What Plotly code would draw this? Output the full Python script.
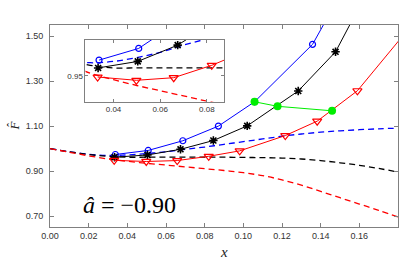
import plotly.graph_objects as go

# ---- data ----
blue_x = [0.0338, 0.0508, 0.0687, 0.0871, 0.1058, 0.1358, 0.1460]
blue_y = [0.974, 0.992, 1.035, 1.100, 1.208, 1.463, 1.620]

black_x = [0.0334, 0.0504, 0.0675, 0.0845, 0.1020, 0.1284, 0.1477, 0.1600]
black_y = [0.962, 0.972, 0.997, 1.036, 1.101, 1.256, 1.430, 1.630]

red_x = [0.0332, 0.0498, 0.0658, 0.0821, 0.0981, 0.1217, 0.1382, 0.1590, 0.1850]
red_y = [0.948, 0.943, 0.947, 0.966, 0.990, 1.058, 1.122, 1.257, 1.527]

green_x = [0.1058, 0.1177, 0.1459]
green_y = [1.208, 1.188, 1.168]

dash_x = [0.00, 0.01, 0.02, 0.03, 0.04, 0.05, 0.06, 0.07, 0.08, 0.09,
          0.10, 0.11, 0.12, 0.13, 0.14, 0.15, 0.16, 0.17, 0.18]
blue_dash_y = [1.000, 0.986, 0.975, 0.970, 0.972, 0.978, 0.986, 0.997, 1.007, 1.019,
               1.031, 1.043, 1.055, 1.065, 1.073, 1.079, 1.084, 1.088, 1.091]
black_dash_y = [1.000, 0.986, 0.974, 0.966, 0.962, 0.962, 0.962, 0.962, 0.962, 0.962,
                0.961, 0.960, 0.958, 0.954, 0.947, 0.937, 0.926, 0.912, 0.896]
red_dash_y = [1.000, 0.984, 0.968, 0.954, 0.944, 0.935, 0.927, 0.919, 0.911, 0.903,
              0.893, 0.880, 0.861, 0.838, 0.810, 0.782, 0.754, 0.726, 0.697]

main_yticks = [0.70, 0.90, 1.10, 1.30, 1.50]
main_xticks = [0.00, 0.02, 0.04, 0.06, 0.08, 0.10, 0.12, 0.14, 0.16]
inset_xticks = [0.04, 0.06, 0.08]
inset_yticks = [0.95]

BLUE, BLACK, RED, GREEN = "#0000ff", "#000000", "#ff0000", "#00ee00"

fig = go.Figure()


def add_all(xa, ya, msize, dwidth):
    for y, c in [(blue_dash_y, BLUE), (black_dash_y, BLACK), (red_dash_y, RED)]:
        fig.add_trace(go.Scatter(x=dash_x, y=y, mode="lines", xaxis=xa, yaxis=ya,
                                 line=dict(color=c, width=dwidth, dash="6px,4px", shape="spline"),
                                 hoverinfo="skip"))
    fig.add_trace(go.Scatter(x=blue_x, y=blue_y, mode="lines+markers", xaxis=xa, yaxis=ya,
                             line=dict(color=BLUE, width=1),
                             marker=dict(symbol="circle-open", size=msize, color=BLUE,
                                         line=dict(width=1.2, color=BLUE))))
    fig.add_trace(go.Scatter(x=black_x, y=black_y, mode="lines+markers", xaxis=xa, yaxis=ya,
                             line=dict(color=BLACK, width=1),
                             marker=dict(symbol="asterisk-open", size=msize + 1, color=BLACK,
                                         line=dict(width=1.6, color=BLACK))))
    fig.add_trace(go.Scatter(x=red_x, y=red_y, mode="lines+markers", xaxis=xa, yaxis=ya,
                             line=dict(color=RED, width=1),
                             marker=dict(symbol="triangle-down-open", size=msize + 2, color=RED,
                                         line=dict(width=1.2, color=RED))))


add_all("x", "y", 6, 1.3)
fig.add_trace(go.Scatter(x=green_x, y=green_y, mode="lines+markers",
                         line=dict(color=GREEN, width=1),
                         marker=dict(symbol="circle", size=8, color=GREEN)))
add_all("x2", "y2", 6, 1.3)

axis_common = dict(showline=True, linecolor="#808080", linewidth=1, mirror="ticks",
                   ticks="inside", tickcolor="#808080", showgrid=False, zeroline=False)

fig.update_layout(
    width=399, height=262,
    margin=dict(l=50, r=1, t=25, b=35),
    paper_bgcolor="white", plot_bgcolor="white",
    showlegend=False,
    font=dict(family="Liberation Sans, Arial", color="#333333", size=9),
    xaxis=dict(range=[0, 0.18], tickvals=main_xticks,
               ticktext=[f"{v:.2f}" for v in main_xticks], ticklen=4,
               domain=[0, 1], **axis_common),
    yaxis=dict(range=[0.652, 1.549], tickvals=main_yticks,
               ticktext=[f"{v:.2f}" for v in main_yticks], ticklen=4,
               ticklabelstandoff=4, domain=[0, 1], **axis_common),
    xaxis2=dict(range=[0.028, 0.0875], tickvals=inset_xticks,
                ticktext=[f"{v:.2f}" for v in inset_xticks], ticklen=3,
                tickfont=dict(size=8), anchor="y2", domain=[0.102, 0.501], **axis_common),
    yaxis2=dict(range=[0.91, 1.005], tickvals=inset_yticks,
                ticktext=[f"{v:.2f}" for v in inset_yticks], ticklen=3,
                tickfont=dict(size=8), anchor="x2", domain=[0.620, 0.926], **axis_common),
)

fig.add_annotation(x=0.0412, y=0.749, xref="x", yref="y",
                   text="<i>â</i> = −0.90", showarrow=False,
                   font=dict(family="Liberation Serif, DejaVu Serif", size=24, color="#000000"))
fig.add_annotation(x=0.5, y=-0.122, xref="paper", yref="paper", yanchor="middle",
                   text="<i>x</i>", showarrow=False,
                   font=dict(family="Liberation Serif, DejaVu Serif", size=15, color="#222222"))
fig.add_annotation(x=-0.132, y=0.5, xref="paper", yref="paper", textangle=-90,
                   text="<i>F̂</i>", showarrow=False,
                   font=dict(family="Liberation Serif, DejaVu Serif", size=13, color="#222222"))

fig.write_html("out.html", config={"displayModeBar": False},
               post_script="document.body.style.margin='0';document.body.style.overflow='hidden';")
